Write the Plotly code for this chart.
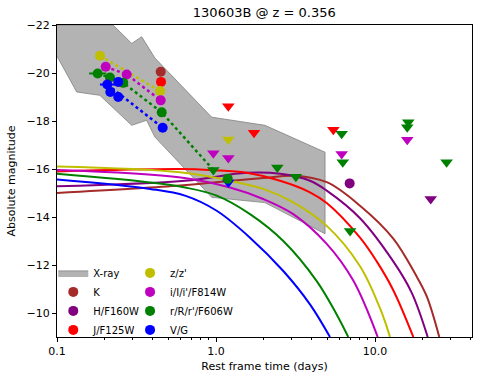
import plotly.graph_objects as go

# X-ray band outline (upper edge left->right, then lower edge right->left)
xray_t = [0.1, 0.225, 0.295, 0.341, 0.413, 0.94, 2.03, 4.85, 4.85, 2.03, 0.94,
          0.413, 0.366, 0.295, 0.186, 0.133, 0.1]
xray_m = [-22.0, -22.0, -21.23, -21.51, -20.62, -18.16, -17.82, -16.70, -13.30,
          -14.6, -14.82, -17.33, -18.03, -17.82, -19.07, -19.21, -20.7]

# detections (rest frame days, absolute mag)
k_t, k_m = [0.449], [-20.05]
h_t, h_m = [6.93], [-15.40]
j_t, j_m = [0.451], [-19.63]
z_t, z_m = [0.1864, 0.4446], [-20.72, -19.25]
i_t, i_m = [0.2024, 0.2745, 0.449], [-20.26, -19.94, -18.86]
r_t, r_m = [0.1803, 0.2154, 0.261, 0.4555, 1.185], [-19.98, -19.81, -19.59, -18.36, -15.59]
r_err_plus = [0.024, 0, 0, 0, 0]
r_err_minus = [0.021, 0, 0, 0, 0]
v_t, v_m = [0.2072, 0.2164, 0.2428, 0.2428, 0.462], [-19.52, -19.21, -19.63, -19.0, -17.72]
v_err_plus = [0.024, 0, 0, 0, 0]
v_err_minus = [0.021, 0, 0, 0, 0]

# upper limits
j_ul_t, j_ul_m = [1.195, 1.734, 5.47], [-18.61, -17.51, -17.64]
z_ul_t, z_ul_m = [1.195], [-17.23]
i_ul_t, i_ul_m = [0.962, 1.195, 6.17, 15.95], [-16.66, -16.46, -16.63, -17.22]
r_ul_t = [0.962, 2.43, 3.18, 6.17, 6.27, 6.97, 16.19, 15.95, 28.2]
r_ul_m = [-15.96, -16.06, -15.68, -17.47, -16.28, -13.42, -17.95, -17.74, -16.28]
h_ul_t, h_ul_m = [22.4], [-14.75]
v_ul_t, v_ul_m = [1.195], [-15.44]

# dotted afterglow decays
z_fit_t, z_fit_m = [0.1864, 0.4446], [-20.72, -19.25]
i_fit_t, i_fit_m = [0.2024, 0.2745, 0.449], [-20.26, -19.94, -18.86]
r_fit_t, r_fit_m = [0.1803, 0.2154, 0.261, 0.4555, 0.962], [-19.98, -19.81, -19.59, -18.36, -15.96]
v_fit_t, v_fit_m = [0.2072, 0.462], [-19.52, -17.72]

# kilonova model curves
k_mod_t = [0.1, 0.594, 0.962, 1.98, 3.06, 4.97, 8.05, 13.03, 18.0, 21.13, 25.36]
k_mod_m = [-15.0, -15.31, -15.44, -15.62, -15.72, -15.45, -14.47, -13.1, -11.6, -10.7, -9.0]
h_mod_t = [0.1, 0.638, 1.56, 2.53, 3.9, 4.97, 8.05, 13.03, 17.0, 21.45]
h_mod_m = [-15.28, -15.51, -15.84, -15.80, -15.51, -15.10, -13.95, -12.15, -10.85, -9.0]
j_mod_t = [0.1, 0.594, 0.962, 1.56, 2.53, 3.9, 4.97, 8.05, 10.25, 13.03, 17.42]
j_mod_m = [-15.90, -16.00, -15.95, -15.84, -15.51, -15.03, -14.58, -13.14, -12.15, -10.95, -9.0]
z_mod_t = [0.1, 0.594, 1.225, 1.98, 3.06, 4.97, 8.05, 10.75, 12.43]
z_mod_m = [-16.10, -15.86, -15.51, -15.17, -14.61, -13.63, -11.95, -10.2, -9.0]
i_mod_t = [0.1, 0.6, 1.225, 1.98, 3.06, 4.97, 7.3, 10.4]
i_mod_m = [-15.96, -15.65, -15.23, -14.75, -14.12, -12.88, -11.35, -9.0]
r_mod_t = [0.1, 0.385, 0.638, 1.01, 1.636, 2.65, 4.30, 5.74, 6.79]
r_mod_m = [-15.80, -15.44, -15.23, -14.89, -14.12, -13.0, -11.33, -9.94, -9.0]
v_mod_t = [0.1, 0.385, 0.638, 1.01, 1.636, 2.65, 3.90, 5.21]
v_mod_m = [-15.56, -15.17, -14.89, -14.26, -13.14, -11.75, -10.36, -9.0]

BROWN, PURPLE, RED = "#a52a2a", "#800080", "#ff0000"
YEL, MAG, GRN, BLU = "#bfbf00", "#bf00bf", "#008000", "#0000ff"

fig = go.Figure()

fig.add_trace(go.Scatter(
    x=xray_t, y=xray_m, fill="toself", mode="lines",
    fillcolor="rgba(128,128,128,0.6)", line=dict(color="#808080", width=0.8),
    name="X-ray", legend="legend"))

# model curves
for t, m, c in [(k_mod_t, k_mod_m, BROWN), (h_mod_t, h_mod_m, PURPLE),
                (j_mod_t, j_mod_m, RED), (z_mod_t, z_mod_m, YEL),
                (i_mod_t, i_mod_m, MAG), (r_mod_t, r_mod_m, GRN),
                (v_mod_t, v_mod_m, BLU)]:
    fig.add_trace(go.Scatter(x=t, y=m, mode="lines",
                             line=dict(color=c, width=2, shape="spline", smoothing=1.0),
                             showlegend=False, hoverinfo="skip"))

# dotted decays
for t, m, c in [(z_fit_t, z_fit_m, YEL), (i_fit_t, i_fit_m, MAG),
                (r_fit_t, r_fit_m, GRN), (v_fit_t, v_fit_m, BLU)]:
    fig.add_trace(go.Scatter(x=t, y=m, mode="lines", line=dict(color=c, width=2.5, dash="dot"),
                             showlegend=False, hoverinfo="skip"))

# upper limits
for t, m, c in [(j_ul_t, j_ul_m, RED), (z_ul_t, z_ul_m, YEL), (i_ul_t, i_ul_m, MAG),
                (r_ul_t, r_ul_m, GRN), (h_ul_t, h_ul_m, PURPLE), (v_ul_t, v_ul_m, BLU)]:
    fig.add_trace(go.Scatter(x=t, y=m, mode="markers",
                             marker=dict(symbol="triangle-down", size=11, color=c),
                             showlegend=False))

# detections
dets = [
    ("K", k_t, k_m, BROWN, None, None, "legend"),
    ("H/F160W", h_t, h_m, PURPLE, None, None, "legend"),
    ("J/F125W", j_t, j_m, RED, None, None, "legend"),
    ("z/z'", z_t, z_m, YEL, None, None, "legend2"),
    ("i/I/i'/F814W", i_t, i_m, MAG, None, None, "legend2"),
    ("r/R/r'/F606W", r_t, r_m, GRN, r_err_plus, r_err_minus, "legend2"),
    ("V/G", v_t, v_m, BLU, v_err_plus, v_err_minus, "legend2"),
]
for name, t, m, c, ep, em, lg in dets:
    err = dict(type="data", array=ep, arrayminus=em, color=c, thickness=2, width=0) if ep else None
    fig.add_trace(go.Scatter(x=t, y=m, mode="markers", name=name, legend=lg,
                             marker=dict(symbol="circle", size=10, color=c),
                             error_x=err))

font = dict(family="DejaVu Sans", size=11, color="black")
lfont = dict(family="DejaVu Sans", size=10, color="black")
fig.update_layout(
    width=485, height=379,
    margin=dict(l=57, r=13, t=25, b=42),
    paper_bgcolor="white", plot_bgcolor="white",
    font=font,
    title=dict(text="130603B @ z = 0.356", x=0.545, xanchor="center", y=0.98, yanchor="top",
               font=dict(family="DejaVu Sans", size=13, color="black")),
    legend=dict(x=-0.009, y=0.252, xanchor="left", yanchor="top", bgcolor="rgba(0,0,0,0)",
                font=lfont, traceorder="normal"),
    legend2=dict(x=0.176, y=0.252, xanchor="left", yanchor="top", bgcolor="rgba(0,0,0,0)",
                 font=lfont, traceorder="normal"),
)
minor_vals = [0.2, 0.3, 0.4, 0.5, 0.6, 0.7, 0.8, 0.9, 2, 3, 4, 5, 6, 7, 8, 9, 20, 30, 40]
fig.update_xaxes(
    type="log", range=[-1, 1.61], automargin=False,
    tickvals=[0.1, 1, 10], ticktext=["0.1", "1.0", "10.0"],
    ticks="outside", ticklen=4, tickcolor="black", tickfont=font,
    minor=dict(tickvals=minor_vals, ticks="outside", ticklen=2, tickcolor="black"),
    showline=True, linecolor="black", linewidth=1, mirror=True,
    showgrid=False, zeroline=False,
    title=dict(text="Rest frame time (days)", standoff=5, font=font),
)
fig.update_yaxes(
    range=[-9, -22], tick0=-22, dtick=2, automargin=False,
    ticks="outside", ticklen=4, tickcolor="black", tickfont=font,
    showline=True, linecolor="black", linewidth=1, mirror=True,
    showgrid=False, zeroline=False,
    title=dict(text="Absolute magnitude", standoff=8, font=font),
)

# drop the browser's default page margin so the figure sits at the window's corner
fig.write_html("out.html", config={"displayModeBar": False},
               post_script="document.body.style.margin='0';")
